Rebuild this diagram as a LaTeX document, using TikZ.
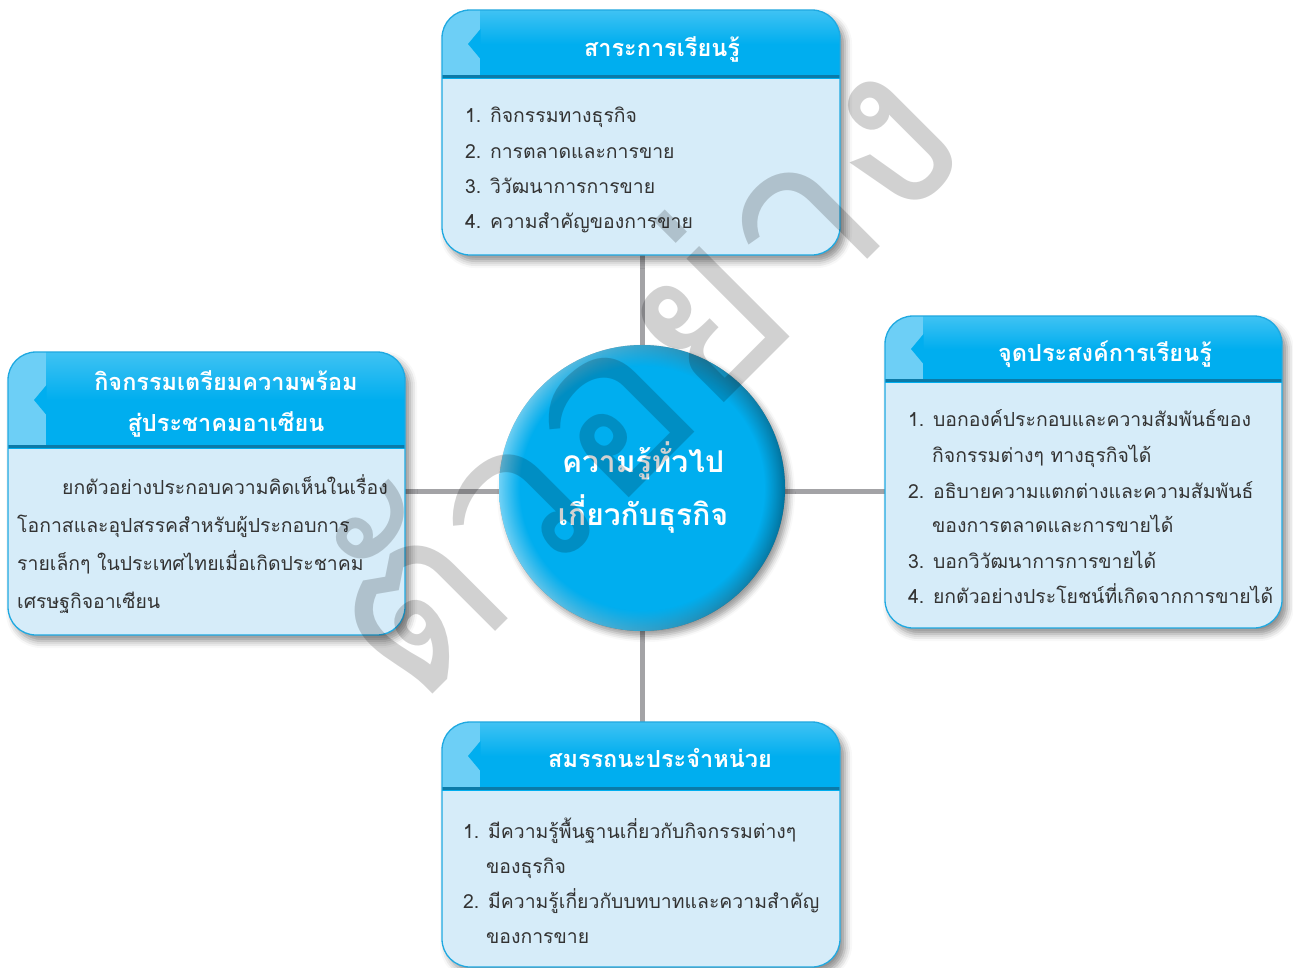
\documentclass[tikz,border=0pt]{standalone}
\usepackage{fontspec}
\setmainfont{Loma}[Script=Thai]
\newfontfamily\thai[Script=Thai]{Loma}
\usetikzlibrary{calc,shadows.blur,fadings}
\definecolor{headc}{HTML}{00AEEF}
\definecolor{stripc}{HTML}{6DCFF6}
\definecolor{bodyc}{HTML}{D6ECF9}
\definecolor{borderc}{HTML}{1FA9E1}
\definecolor{darkline}{HTML}{0B7AA8}
\definecolor{linkc}{HTML}{A3A3A6}
\definecolor{txtc}{HTML}{333333}
\tikzset{
  boxnode/.style={inner sep=0pt, outer sep=0pt},
  item/.style={anchor=base west, inner sep=0pt, text=txtc, font=\thai\fontsize{19.4}{22}\selectfont},
  headtxt/.style={anchor=base, inner sep=0pt, text=white, font=\thai\bfseries\fontsize{23.5}{26}\selectfont},
  circtxt/.style={anchor=base, inner sep=0pt, text=white, font=\thai\bfseries\fontsize{30}{34}\selectfont},
  linkline/.style={draw=linkc, line width=5pt},
}
\newcommand\mybox[2]{%
  \path[fill=bodyc, rounded corners=28pt, blur shadow={shadow xshift=5pt, shadow yshift=-6pt, shadow blur radius=7pt, shadow opacity=45}]
    (#1.north west) rectangle (#1.south east);
  \begin{scope}
    \clip[rounded corners=28pt] (#1.north west) rectangle (#1.south east);
    \shade[top color=headc!75!white, bottom color=headc, middle color=headc] (#1.north west) rectangle ($(#1.north east)+(0,#2)$);
    \fill[stripc] (#1.north west) rectangle ($(#1.north west)+(38,#2)$);
    \fill[headc] ($(#1.north west)+(38.5,#2/2-15)$) -- ($(#1.north west)+(26,#2/2)$) -- ($(#1.north west)+(38.5,#2/2+15)$) -- cycle;
    \fill[darkline] ($(#1.north west)+(0,#2-3)$) rectangle ($(#1.north east)+(0,#2)$);
  \end{scope}
  \draw[borderc, line width=1.3pt, rounded corners=28pt] (#1.north west) rectangle (#1.south east);
}
\begin{document}
\begin{tikzpicture}[x=1pt,y=-1pt]
\useasboundingbox (0,0) rectangle (1293,967);
% invisible frames
\node[boxnode, minimum width=398pt, minimum height=245pt] (top) at (641,132.5) {};
\node[boxnode, minimum width=397pt, minimum height=283pt] (left) at (206.5,493.5) {};
\node[boxnode, minimum width=397pt, minimum height=312pt] (right) at (1083.5,472) {};
\node[boxnode, minimum width=398pt, minimum height=245pt] (bottom) at (641,844.5) {};
\node[circle, minimum size=286pt, inner sep=0pt] (circ) at (642,488) {};
% connectors
\draw[linkline] (circ |- top.south) -- (circ |- bottom.north);
\draw[linkline] ($(left.east |- circ)+(0,3)$) -- ($(right.west |- circ)+(0,3)$);
% boxes
\mybox{top}{68}
\mybox{left}{96}
\mybox{right}{66}
\mybox{bottom}{68}
% circle
\fill[black, opacity=0.3, blur shadow={shadow xshift=4pt, shadow yshift=-5pt, shadow blur radius=6pt, shadow opacity=40}] (circ) circle (143);
\shade[shading angle=135, left color=headc!55!white, right color=headc!65!black] (circ) circle (143);
\fill[headc, path fading=circle with fuzzy edge 15 percent] (circ) circle (143);
\node[circtxt] (c1) at (643,472) {ความรู้ทั่วไป};
\node[circtxt] (c2) at (643,525) {เกี่ยวกับธุรกิจ};
% headers
\node[headtxt] (h1) at (662,56) {สาระการเรียนรู้};
\node[headtxt] (h2) at (1105,361) {จุดประสงค์การเรียนรู้};
\node[headtxt] (h3a) at (226,390) {กิจกรรมเตรียมความพร้อม};
\node[headtxt] (h3b) at (226,431) {สู่ประชาคมอาเซียน};
\node[headtxt] (h4) at (660,767) {สมรรถนะประจำหน่วย};
% top items
\node[item] (t1) at (465,122) {1. กิจกรรมทางธุรกิจ};
\node[item] (t2) at (465,158) {2. การตลาดและการขาย};
\node[item] (t3) at (465,193) {3. วิวัฒนาการการขาย};
\node[item] (t4) at (465,228) {4. ความสำคัญของการขาย};
% right items
\node[item] (r1) at (908,426) {1. บอกองค์ประกอบและความสัมพันธ์ของ};
\node[item] (r1b) at (932,462) {กิจกรรมต่างๆ ทางธุรกิจได้};
\node[item] (r2) at (908,498) {2. อธิบายความแตกต่างและความสัมพันธ์};
\node[item] (r2b) at (932,532) {ของการตลาดและการขายได้};
\node[item] (r3) at (908,568) {3. บอกวิวัฒนาการการขายได้};
\node[item] (r4) at (908,603) {4. ยกตัวอย่างประโยชน์ที่เกิดจากการขายได้};
% left paragraph
\node[item] (l1) at (62,494) {ยกตัวอย่างประกอบความคิดเห็นในเรื่อง};
\node[item] (l2) at (17,532) {โอกาสและอุปสรรคสำหรับผู้ประกอบการ};
\node[item] (l3) at (17,570) {รายเล็กๆ ในประเทศไทยเมื่อเกิดประชาคม};
\node[item] (l4) at (17,608) {เศรษฐกิจอาเซียน};
% bottom items
\node[item] (b1) at (463,838) {1. มีความรู้พื้นฐานเกี่ยวกับกิจกรรมต่างๆ};
\node[item] (b1b) at (486,873) {ของธุรกิจ};
\node[item] (b2) at (463,908) {2. มีความรู้เกี่ยวกับบทบาทและความสำคัญ};
\node[item] (b2b) at (486,943) {ของการขาย};
% watermark
\node[inner sep=0pt, rotate=45, text=black, opacity=0.18, font=\thai\fontsize{230}{240}\selectfont] (wm) at (630,368) {ตัวอย่าง};
\end{tikzpicture}
\end{document}
